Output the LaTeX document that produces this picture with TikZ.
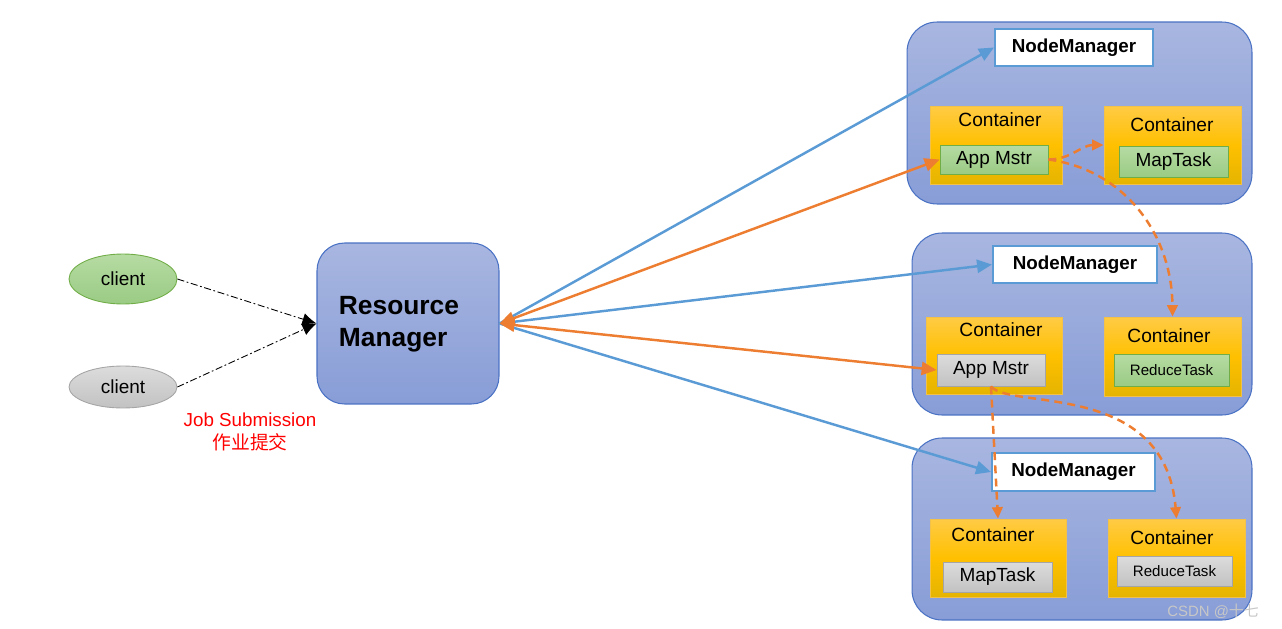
\documentclass[tikz,border=0pt]{standalone}
\usepackage{fontspec}
\setmainfont{Liberation Sans}
\newfontfamily\cjk{Noto Sans CJK SC}
\usetikzlibrary{arrows.meta,shapes.geometric}
\definecolor{nbtop}{HTML}{A8B6E0}
\definecolor{nbbot}{HTML}{889DD7}
\definecolor{nbdraw}{HTML}{4A72C4}
\definecolor{ctop}{HTML}{FFCB45}
\definecolor{cmid}{HTML}{FFC000}
\definecolor{cbot}{HTML}{E5B400}
\definecolor{cdraw}{HTML}{F2C14A}
\definecolor{gtop}{HTML}{B6DBA3}
\definecolor{gbot}{HTML}{9ACB84}
\definecolor{gdraw}{HTML}{70AD47}
\definecolor{ytop}{HTML}{DCDCDC}
\definecolor{ybot}{HTML}{C2C2C2}
\definecolor{ydraw}{HTML}{A5A5A5}
\definecolor{lblue}{HTML}{5B9BD5}
\definecolor{lorange}{HTML}{ED7D31}
\tikzset{
  x=0.02cm, y=-0.02cm,
  nodebox/.style={rectangle, rounded corners=0.6cm, draw=nbdraw, line width=0.6pt, top color=nbtop, bottom color=nbbot, inner sep=0pt},
  nmbox/.style={rectangle, draw=lblue, line width=1.2pt, fill=white, font=\fontsize{10.7}{12}\selectfont\bfseries, inner sep=0pt},
  contbox/.style={rectangle, draw=cdraw, line width=0.5pt, top color=ctop, bottom color=cbot, middle color=cmid, inner sep=0pt},
  conttext/.style={font=\fontsize{10.9}{12}\selectfont, inner sep=0pt},
  greenbox/.style={rectangle, draw=gdraw, line width=0.5pt, top color=gtop, bottom color=gbot, inner sep=0pt},
  graybox/.style={rectangle, draw=ydraw, line width=0.5pt, top color=ytop, bottom color=ybot, inner sep=0pt},
  bigf/.style={font=\fontsize{10.8}{12}\selectfont},
  smallf/.style={font=\fontsize{8.6}{10}\selectfont},
  blueline/.style={draw=lblue, line width=1.4pt, -{Triangle[length=8.5pt,width=7.5pt]}},
  orangeline/.style={draw=lorange, line width=1.4pt, {Triangle[length=8.5pt,width=7.5pt]}-{Triangle[length=8.5pt,width=7.5pt]}},
  odash/.style={draw=lorange, line width=1.4pt, dash pattern=on 4.5pt off 3pt, -{Triangle[length=6.5pt,width=6pt]}},
  submit/.style={draw=black, line width=0.5pt, dash pattern=on 4pt off 1.5pt on 1pt off 1.5pt, -{Latex[length=8pt,width=7pt]}},
}
\begin{document}
\begin{tikzpicture}
\useasboundingbox (0,0) rectangle (1282,629);
% node manager hosts
\node[nodebox, minimum width=6.9cm, minimum height=3.64cm] (h1) at (1079.5,113) {};
\node[nodebox, minimum width=6.8cm, minimum height=3.64cm] (h2) at (1082,324) {};
\node[nodebox, minimum width=6.8cm, minimum height=3.64cm] (h3) at (1082,529) {};
% NodeManagers
\node[nmbox, minimum width=3.16cm, minimum height=0.74cm] (nm1) at (1074,47.5) {NodeManager};
\node[nmbox, minimum width=3.28cm, minimum height=0.74cm] (nm2) at (1075,264.5) {NodeManager};
\node[nmbox, minimum width=3.26cm, minimum height=0.76cm] (nm3) at (1073.5,472) {NodeManager};
% containers
\node[contbox, minimum width=2.64cm, minimum height=1.56cm] (c1a) at (996,145) {};
\node[contbox, minimum width=2.74cm, minimum height=1.56cm] (c1b) at (1172.5,145) {};
\node[contbox, minimum width=2.72cm, minimum height=1.54cm] (c2a) at (994,355.5) {};
\node[contbox, minimum width=2.74cm, minimum height=1.58cm] (c2b) at (1172.5,356.5) {};
\node[contbox, minimum width=2.72cm, minimum height=1.56cm] (c3a) at (998,558) {};
\node[contbox, minimum width=2.74cm, minimum height=1.56cm] (c3b) at (1176.5,558) {};
\node[conttext] (t1a) at (1000,120) {Container};
\node[conttext] (t1b) at (1172,125) {Container};
\node[conttext] (t2a) at (1001,330) {Container};
\node[conttext] (t2b) at (1169,336) {Container};
\node[conttext] (t3a) at (993,535) {Container};
\node[conttext] (t3b) at (1172,538) {Container};
% tasks
\node[greenbox, bigf, minimum width=2.16cm, minimum height=0.58cm] (am1) at (994,159.5) {App Mstr};
\node[greenbox, bigf, minimum width=2.18cm, minimum height=0.62cm] (mt1) at (1173.5,161.5) {MapTask};
\node[graybox, bigf, minimum width=2.16cm, minimum height=0.64cm] (am2) at (991,370) {App Mstr};
\node[greenbox, smallf, minimum width=2.3cm, minimum height=0.64cm] (rt2) at (1171.5,370) {ReduceTask};
\node[graybox, bigf, minimum width=2.18cm, minimum height=0.6cm] (mt3) at (997.5,577) {MapTask};
\node[graybox, smallf, minimum width=2.3cm, minimum height=0.6cm] (rt3) at (1174.5,571) {ReduceTask};
% resource manager
\node[nodebox, minimum width=3.64cm, minimum height=3.22cm, rounded corners=0.55cm] (rm) at (408,323.5) {};
\node[font=\fontsize{15}{18.2}\selectfont\bfseries, align=left, inner sep=0pt] (rmt) at (399,324) {Resource\\Manager};
% clients
\node[ellipse, draw=gdraw, line width=0.5pt, top color=gtop, bottom color=gbot, minimum width=2.16cm, minimum height=1.0cm, inner sep=0pt, bigf] (cl1) at (123,279) {client};
\node[ellipse, draw=ydraw, line width=0.5pt, top color=ytop, bottom color=ybot, minimum width=2.16cm, minimum height=0.84cm, inner sep=0pt, bigf] (cl2) at (123,387) {client};
\node[text=red, align=center, font=\fontsize{10.7}{13}\selectfont, inner sep=0pt] (js) at (250,432) {Job Submission\\{\cjk 作业提交}};
% submissions
\draw[submit] (cl1.east) -- (rm.west);
\draw[submit] (cl2.east) -- (rm.west);
% RM to NMs
\draw[blueline] (rm.east) -- (nm1.west);
\draw[blueline] (rm.east) -- (nm2.west);
\draw[blueline] (rm.east) -- (nm3.west);
\draw[orangeline] (rm.east) -- (am1.west);
\draw[orangeline] (rm.east) -- (am2.west);
% app master requests
\draw[odash] (am1.east) to[out=0, in=180] (c1b.west);
\draw[odash] (am1.east) .. controls (1125,170) and (1172,235) .. (c2b.north);
\draw[odash] (am2.south) -- (c3a.north);
\draw[odash] (am2.south) .. controls (1010,410) and (1165,380) .. (c3b.north);
% watermark
\node[text=black!22, font=\fontsize{8.5}{10}\selectfont, inner sep=0pt, anchor=west] (wm) at (1167,611) {CSDN @{\cjk 十七}};
\end{tikzpicture}
\end{document}
